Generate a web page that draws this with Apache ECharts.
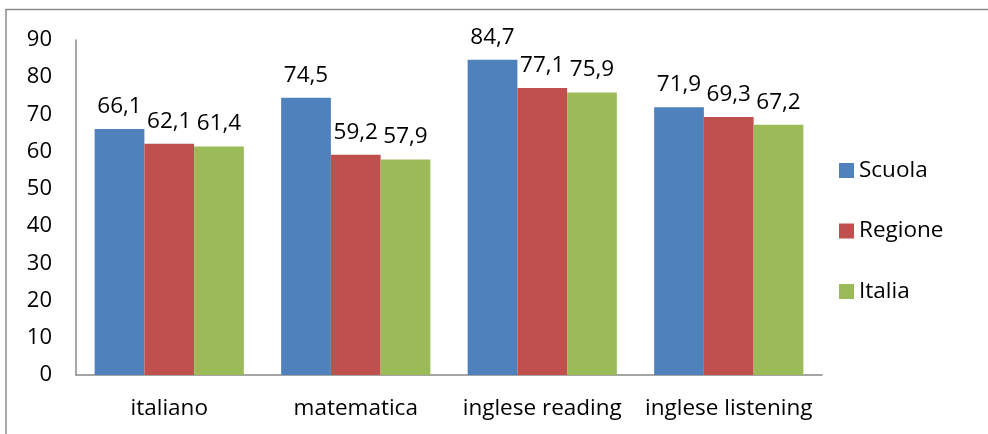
<!DOCTYPE html>
<html><head><meta charset="utf-8">
<script src="https://cdn.jsdelivr.net/npm/echarts@6/dist/echarts.min.js"></script>
<style>html,body{margin:0;padding:0;background:#fff}#c{width:988px;height:434px}</style>
</head><body><div id="c"></div>
<script>
const categories = ['italiano', 'matematica', 'inglese reading', 'inglese listening'];
const scuola = [66.1, 74.5, 84.7, 71.9];
const regione = [62.1, 59.2, 77.1, 69.3];
const italia = [61.4, 57.9, 75.9, 67.2];
const yTicks = [0, 90, 10];

const font = 'Open Sans';
const fs = 22.5;
const lbl = {
  show: true, position: 'top', color: '#000', fontFamily: font, fontSize: fs, distance: 11,
  formatter: p => String(p.value).replace('.', ',')
};
function s(name, data, color) {
  return { name, type: 'bar', data, itemStyle: { color }, label: lbl, labelLayout: { hideOverlap: false }, barGap: '0%', barCategoryGap: '20%' };
}
const chart = echarts.init(document.getElementById('c'));
chart.setOption({
  animation: false,
  graphic: [{ type: 'rect', shape: { x: 6, y: 9.5, width: 1100, height: 600 }, style: { fill: 'none', stroke: '#8c8c8c', lineWidth: 1.5 }, silent: true }],
  grid: { left: 76, right: 166, top: 40, bottom: 59 },
  legend: {
    orient: 'vertical', left: 834, top: 154, itemWidth: 15, itemHeight: 15, itemGap: 37.5,
    icon: 'rect', textStyle: { fontFamily: font, fontSize: fs, color: '#000' },
    data: ['Scuola', 'Regione', 'Italia']
  },
  xAxis: {
    type: 'category', data: categories,
    axisLine: { lineStyle: { color: '#888', width: 1.5 } }, axisTick: { show: false },
    axisLabel: { color: '#000', fontFamily: font, fontSize: fs, margin: 22, interval: 0 }
  },
  yAxis: {
    type: 'value', min: yTicks[0], max: yTicks[1], interval: yTicks[2],
    axisLine: { show: true, lineStyle: { color: '#888', width: 1.5 } }, axisTick: { show: false },
    splitLine: { show: false },
    axisLabel: { color: '#000', fontFamily: font, fontSize: 22, margin: 24 }
  },
  series: [s('Scuola', scuola, '#4F81BD'), s('Regione', regione, '#C0504D'), s('Italia', italia, '#9BBB59')]
});
</script></body></html>
